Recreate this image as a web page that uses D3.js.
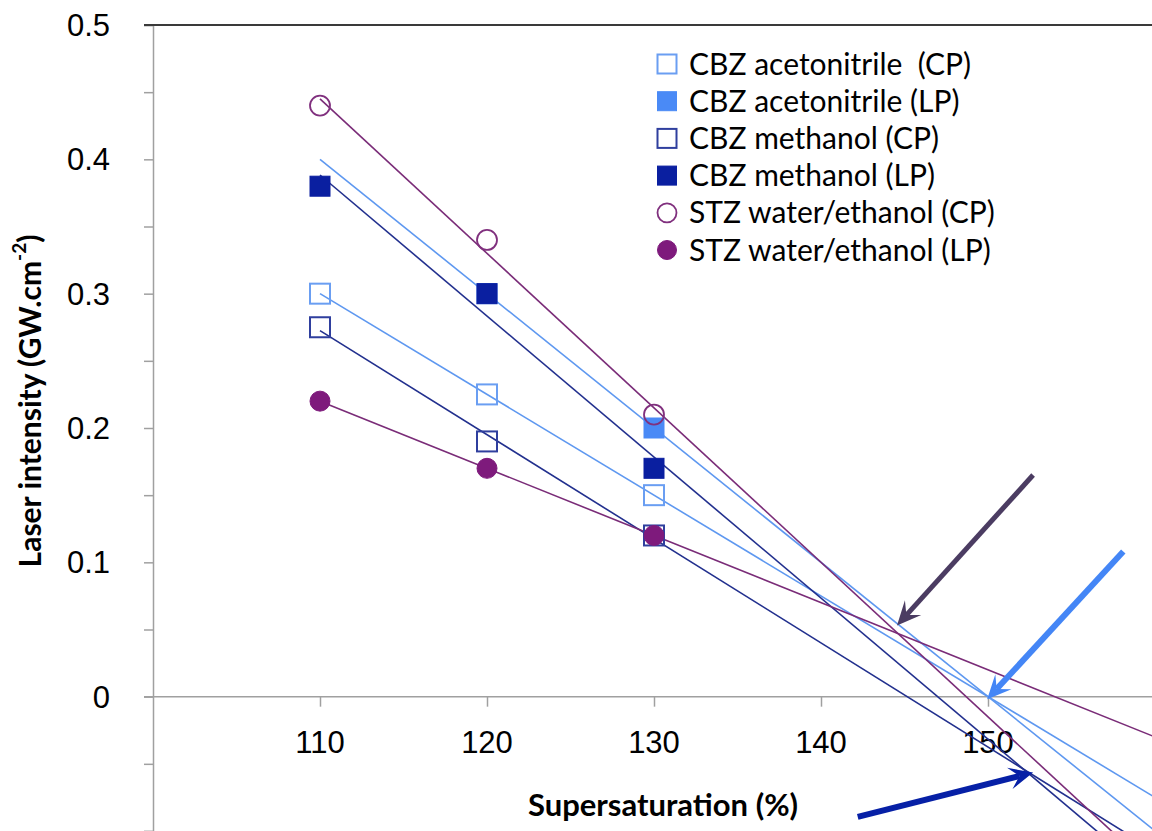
<!DOCTYPE html>
<html>
<head>
<meta charset="utf-8">
<script src="https://cdn.jsdelivr.net/npm/d3@7"></script>
<style>
  html, body { margin: 0; padding: 0; background: #fff; }
  svg { display: block; font-family: Lato, "Open Sans", sans-serif; }
  text { white-space: pre; }
</style>
</head>
<body>
<svg id="chart" width="1152" height="831"></svg>
<script>
// Supersaturation levels (%) at which each series was measured
const supersaturation = [110, 120, 130];

// Laser intensity thresholds (GW.cm-2); null = no measurement
const cbzAcetonitrileCP = [0.30, 0.225, 0.15];
const cbzAcetonitrileLP = [null, 0.30, 0.20];
const cbzMethanolCP     = [0.275, 0.19, 0.12];
const cbzMethanolLP     = [0.38, 0.30, 0.17];
const stzWaterEthanolCP = [0.44, 0.34, 0.21];
const stzWaterEthanolLP = [0.22, 0.17, 0.12];

const seriesNames = [
  "CBZ acetonitrile  (CP)",
  "CBZ acetonitrile (LP)",
  "CBZ methanol (CP)",
  "CBZ methanol (LP)",
  "STZ water/ethanol (CP)",
  "STZ water/ethanol (LP)"
];

const xTicks = [110, 120, 130, 140, 150];
const yTicks = [0, 0.1, 0.2, 0.3, 0.4, 0.5];

// Trend lines are fitted over the data and extended across this span
const trendSpan = [110, 160];

// Arrows pointing at the zero-crossing / intersection regions (data units)
const arrowFrom  = [[152.7, 0.165], [158.1, 0.108], [142.2, -0.0895]];
const arrowTo    = [[144.55, 0.053], [149.95, -0.002], [152.7, -0.0565]];

// ---- styling ----
const lightBlue = "#4a8af6", darkBlue = "#0a1fa0", purple = "#7e1a7c";
const styles = [
  { shape: "square", fill: "none",    stroke: "#6a9ef2", line: "#5e98f0" },
  { shape: "square", fill: lightBlue, stroke: lightBlue, line: "#5e98f0" },
  { shape: "square", fill: "none",    stroke: "#2f3f9e", line: "#22308e" },
  { shape: "square", fill: darkBlue,  stroke: darkBlue,  line: "#22308e" },
  { shape: "circle", fill: "none",    stroke: "#80307e", line: "#7a2c78" },
  { shape: "circle", fill: purple,    stroke: purple,    line: "#7a2c78" }
];
const arrowColors = ["#4b3c62", "#4486f6", "#0620a6"];
const arrowWidths = [5, 6, 6];

const allValues = [cbzAcetonitrileCP, cbzAcetonitrileLP, cbzMethanolCP,
                   cbzMethanolLP, stzWaterEthanolCP, stzWaterEthanolLP];
const series = allValues.map((vals, i) => ({
  name: seriesNames[i],
  style: styles[i],
  points: supersaturation.map((x, j) => ({ x, y: vals[j] })).filter(p => p.y !== null)
}));

const svg = d3.select("#chart");
const W = 1152, H = 831;

const x = d3.scaleLinear().domain([100, 160]).range([153, 1155]);
const y = d3.scaleLinear().domain([-0.1, 0.5]).range([831, 25]);

// ---- axes ----
const yAxisG = svg.append("g").attr("transform", `translate(${x(100)},0)`);
yAxisG.call(d3.axisLeft(y).tickValues(d3.range(-0.1, 0.5001, 0.05)).tickSize(9).tickFormat(""));
yAxisG.select(".domain").attr("stroke", "#a0a0a0").attr("stroke-width", 1.5);
yAxisG.selectAll(".tick line").attr("stroke", "#a0a0a0").attr("stroke-width", 1.5);

yAxisG.selectAll(".lbl").data(yTicks).join("text")
  .attr("class", "lbl")
  .attr("x", -43).attr("y", d => y(d))
  .attr("dy", "0.35em")
  .attr("text-anchor", "end")
  .attr("font-size", 31).attr("fill", "#000")
  .text(d => d === 0 ? "0" : d3.format(".1f")(d));

const xAxisG = svg.append("g").attr("transform", `translate(0,${y(0)})`);
xAxisG.call(d3.axisBottom(x).tickValues(xTicks).tickSize(10).tickFormat("").tickSizeOuter(0));
xAxisG.select(".domain").attr("d", `M${x(100) - 9},0H${W}`)
  .attr("stroke", "#a0a0a0").attr("stroke-width", 1.5);
xAxisG.selectAll(".tick line").attr("stroke", "#a0a0a0").attr("stroke-width", 1.5);
xAxisG.selectAll(".lbl").data(xTicks).join("text")
  .attr("class", "lbl")
  .attr("x", d => x(d)).attr("y", 45)
  .attr("dy", "0.35em")
  .attr("text-anchor", "middle")
  .attr("font-size", 31).attr("fill", "#000")
  .text(d => d);

// top border of the plot area
svg.append("line")
  .attr("x1", x(100) - 9).attr("x2", W)
  .attr("y1", y(0.5)).attr("y2", y(0.5))
  .attr("stroke", "#3a3a3a").attr("stroke-width", 2);

// axis titles
svg.append("text")
  .attr("x", 663).attr("y", 805)
  .attr("dy", "0.35em")
  .attr("text-anchor", "middle")
  .attr("font-size", 31).attr("font-weight", "bold")
  .text("Supersaturation (%)");

const yt = svg.append("text")
  .attr("transform", `translate(30,401) rotate(-90)`)
  .attr("dy", "0.35em")
  .attr("text-anchor", "middle")
  .attr("font-size", 30).attr("font-weight", "bold");
yt.append("tspan").text("Laser intensity (GW.cm");
yt.append("tspan").attr("font-size", 19).attr("dy", "-0.75em").text("-2");
yt.append("tspan").attr("dy", "0.47em").text(")");

// ---- plot contents (clipped to the plot area) ----
svg.append("clipPath").attr("id", "plotClip")
  .append("rect").attr("x", x(100)).attr("y", y(0.5)).attr("width", W - x(100)).attr("height", H - y(0.5));
const plot = svg.append("g").attr("clip-path", "url(#plotClip)");

// least-squares linear fit
function fit(pts) {
  const mx = d3.mean(pts, p => p.x), my = d3.mean(pts, p => p.y);
  const sxy = d3.sum(pts, p => (p.x - mx) * (p.y - my));
  const sxx = d3.sum(pts, p => (p.x - mx) ** 2);
  const b = sxy / sxx;
  return xv => my + b * (xv - mx);
}

const line = d3.line().x(d => x(d[0])).y(d => y(d[1]));
series.forEach(s => {
  const f = fit(s.points);
  plot.append("path")
    .attr("d", line(trendSpan.map(v => [v, f(v)])))
    .attr("fill", "none")
    .attr("stroke", s.style.line)
    .attr("stroke-width", 1.6);
});

const MS = 20; // marker size
function drawMarker(g, st, cx, cy, size) {
  if (st.shape === "square") {
    g.append("rect")
      .attr("x", cx - size / 2).attr("y", cy - size / 2)
      .attr("width", size).attr("height", size)
      .attr("fill", st.fill).attr("stroke", st.stroke)
      .attr("stroke-width", st.fill === "none" ? 2 : 1);
  } else {
    g.append("circle")
      .attr("cx", cx).attr("cy", cy).attr("r", size / 2)
      .attr("fill", st.fill).attr("stroke", st.stroke)
      .attr("stroke-width", st.fill === "none" ? 1.8 : 1);
  }
}
series.forEach(s => {
  const g = plot.append("g");
  s.points.forEach(p => drawMarker(g, s.style, x(p.x), y(p.y), MS));
});

// ---- annotation arrows ----
function arrow(from, to, color, w) {
  const x0 = x(from[0]), y0 = y(from[1]), x1 = x(to[0]), y1 = y(to[1]);
  const ang = Math.atan2(y1 - y0, x1 - x0);
  const L = 24, Wd = 11, notch = 14;
  const ux = Math.cos(ang), uy = Math.sin(ang);
  const px = -uy, py = ux;
  const bx = x1 - ux * L, by = y1 - uy * L;
  const nx = x1 - ux * notch, ny = y1 - uy * notch;
  svg.append("line")
    .attr("x1", x0).attr("y1", y0).attr("x2", nx).attr("y2", ny)
    .attr("stroke", color).attr("stroke-width", w);
  svg.append("path")
    .attr("d", `M${x1},${y1}L${bx + px * Wd},${by + py * Wd}L${nx},${ny}L${bx - px * Wd},${by - py * Wd}Z`)
    .attr("fill", color);
}
arrowFrom.forEach((f, i) => arrow(f, arrowTo[i], arrowColors[i], arrowWidths[i]));

// ---- legend ----
const legend = svg.append("g");
series.forEach((s, i) => {
  const cy = 64 + i * 37.2;
  drawMarker(legend, s.style, 667, cy, 19);
  legend.append("text")
    .attr("x", 689).attr("y", cy)
    .attr("dy", "0.35em")
    .attr("font-size", 30)
    .text(s.name);
});
</script>
</body>
</html>
